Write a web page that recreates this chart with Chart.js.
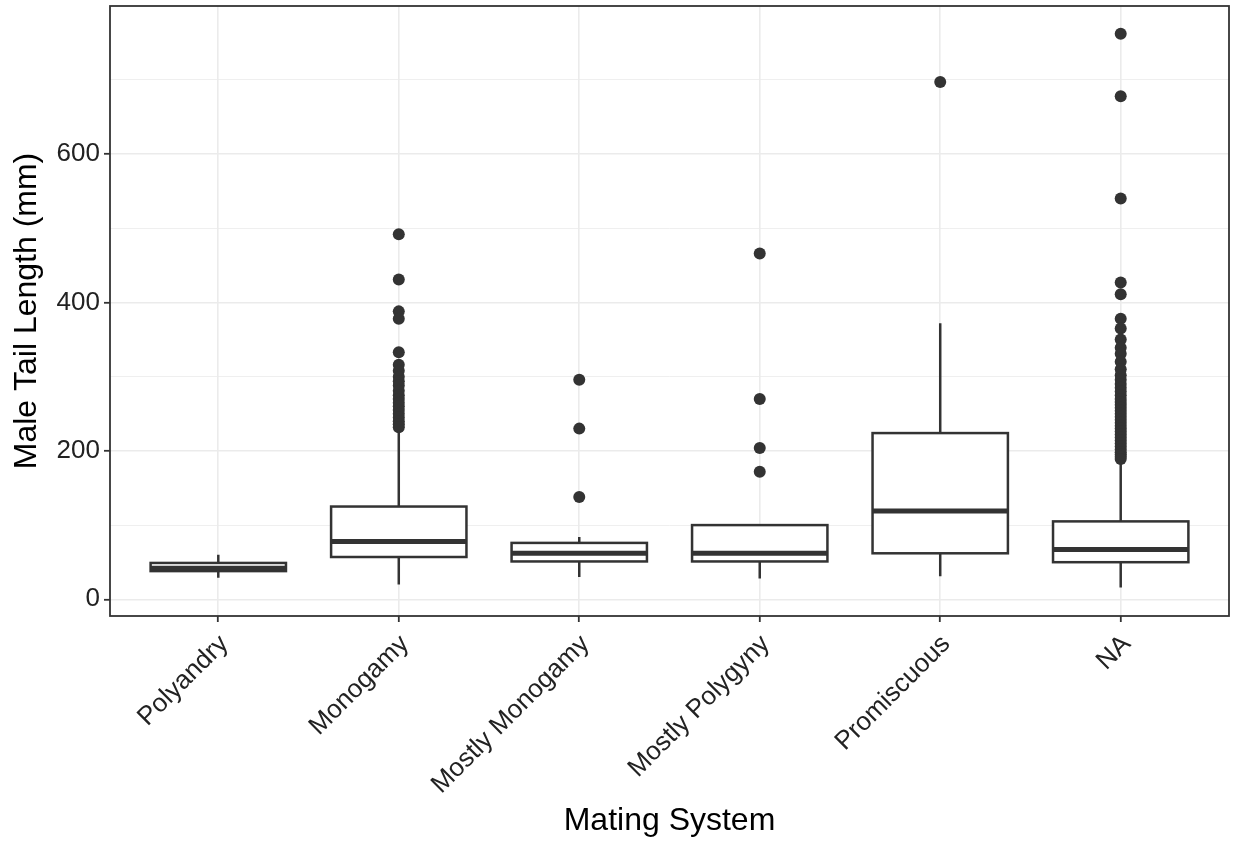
<!DOCTYPE html>
<html>
<head>
<meta charset="utf-8">
<script src="https://cdn.jsdelivr.net/npm/chart.js@4.4.0/dist/chart.umd.min.js"></script>
<style>
  html, body { margin: 0; padding: 0; background: #ffffff; }
  #wrap { width: 1235px; height: 842px; }
</style>
</head>
<body>
<div id="wrap"><canvas id="box-chart"></canvas></div>
<script>
// mating system categories and box stats
const categories = ['Polyandry', 'Monogamy', 'Mostly Monogamy', 'Mostly Polygyny', 'Promiscuous', 'NA'];
const lowerWhisker = [29, 20, 30, 28, 31, 16];
const q1 = [38, 57, 51, 51, 62, 50];
const medians = [42, 78, 62, 62, 119, 67];
const q3 = [49, 125, 76, 100, 224, 105];
const upperWhisker = [60, 229, 84, 101, 372, 188];

// outliers for each category
const outPolyandry = [];
const outMonogamy = [492, 431, 388, 378, 333, 316, 308, 300, 294, 288, 281, 275, 270, 265, 260, 255, 250, 245, 240, 236, 232];
const outMostlyMonogamy = [296, 230, 138];
const outMostlyPolygyny = [466, 270, 204, 172];
const outPromiscuous = [697];
const outNA = [762, 678, 540, 427, 411, 378, 365, 350, 339, 331, 320, 310, 302, 296, 290, 285, 280, 275, 270, 266, 262, 258, 254, 250, 246, 242, 238, 234, 230, 226, 222, 218, 214, 210, 206, 202, 198, 195, 192, 189];
const outliers = [outPolyandry, outMonogamy, outMostlyMonogamy, outMostlyPolygyny, outPromiscuous, outNA];

const yTicks = [0, 200, 400, 600];

const INK = '#333333';
const GRID = '#EBEBEB';
const TEXT = '#222222';

const outlierPoints = [];
outliers.forEach((list, i) => {
  list.forEach(v => outlierPoints.push({ x: i + 1, y: v }));
});

// draws the boxes through the chart's scales
const boxPlugin = {
  id: 'boxes',
  beforeDatasetsDraw(chart) {
    const { ctx, scales: { x, y } } = chart;
    const half = 0.375;
    ctx.save();
    ctx.strokeStyle = INK;
    ctx.lineCap = 'butt';
    categories.forEach((c, i) => {
      const cx = x.getPixelForValue(i + 1);
      const left = x.getPixelForValue(i + 1 - half);
      const right = x.getPixelForValue(i + 1 + half);
      // whiskers
      ctx.lineWidth = 2.5;
      ctx.beginPath();
      ctx.moveTo(cx, y.getPixelForValue(q3[i]));
      ctx.lineTo(cx, y.getPixelForValue(upperWhisker[i]));
      ctx.moveTo(cx, y.getPixelForValue(q1[i]));
      ctx.lineTo(cx, y.getPixelForValue(lowerWhisker[i]));
      ctx.stroke();
      // box
      const top = y.getPixelForValue(q3[i]);
      const bot = y.getPixelForValue(q1[i]);
      ctx.fillStyle = '#ffffff';
      ctx.fillRect(left, top, right - left, bot - top);
      ctx.strokeRect(left, top, right - left, bot - top);
      // median
      ctx.lineWidth = 5;
      ctx.beginPath();
      const my = y.getPixelForValue(medians[i]);
      ctx.moveTo(left, my);
      ctx.lineTo(right, my);
      ctx.stroke();
    });
    ctx.restore();
  },
  afterDatasetsDraw(chart) {
    const { ctx, chartArea: a } = chart;
    ctx.save();
    ctx.strokeStyle = INK;
    ctx.lineWidth = 1.8;
    ctx.strokeRect(a.left, a.top, a.right - a.left, a.bottom - a.top);
    ctx.restore();
  }
};

const ctx = document.getElementById('box-chart');

new Chart(ctx, {
  type: 'scatter',
  data: {
    datasets: [{
      label: 'outliers',
      data: outlierPoints,
      backgroundColor: INK,
      borderColor: INK,
      borderWidth: 0,
      pointRadius: 6,
      pointHoverRadius: 6
    }]
  },
  options: {
    responsive: true,
    maintainAspectRatio: false,
    animation: false,
    events: [],
    layout: { padding: { top: 6, right: 5, left: 0, bottom: 0 } },
    plugins: { legend: { display: false }, tooltip: { enabled: false } },
    scales: {
      x: {
        type: 'linear',
        min: 0.4,
        max: 6.6,
        afterFit: s => { s.height = 226; s.paddingLeft = 0; s.paddingRight = 0; },
        border: { display: false },
        grid: {
          color: GRID,
          lineWidth: 1.6,
          tickColor: INK,
          tickWidth: 1.8,
          tickLength: 6
        },
        ticks: {
          stepSize: 1,
          includeBounds: false,
          autoSkip: false,
          minRotation: 45,
          maxRotation: 45,
          padding: 7,
          labelOffset: 6,
          color: TEXT,
          font: { family: 'Liberation Sans', size: 26 },
          callback: v => categories[v - 1]
        },
        title: {
          display: true,
          text: 'Mating System',
          color: '#000000',
          font: { family: 'Liberation Sans', size: 32 },
          padding: { top: 0, bottom: 2 }
        }
      },
      y: {
        min: -22.5,
        max: 799.5,
        afterFit: s => { s.width = 110; s.paddingTop = 0; s.paddingBottom = 0; },
        border: { display: false },
        grid: {
          color: GRID,
          lineWidth: c => (yTicks.includes(c.tick.value) ? 1.6 : 0.8),
          tickColor: c => (yTicks.includes(c.tick.value) ? INK : 'rgba(0,0,0,0)'),
          tickWidth: 1.8,
          tickLength: 6
        },
        ticks: {
          stepSize: 100,
          includeBounds: false,
          padding: 4,
          color: TEXT,
          font: { family: 'Liberation Sans', size: 26 },
          callback: v => (yTicks.includes(v) ? String(v) : '')
        },
        title: {
          display: true,
          text: 'Male Tail Length (mm)',
          color: '#000000',
          font: { family: 'Liberation Sans', size: 32 },
          padding: { top: 8, bottom: 0 }
        }
      }
    }
  },
  plugins: [boxPlugin]
});
</script>
</body>
</html>
